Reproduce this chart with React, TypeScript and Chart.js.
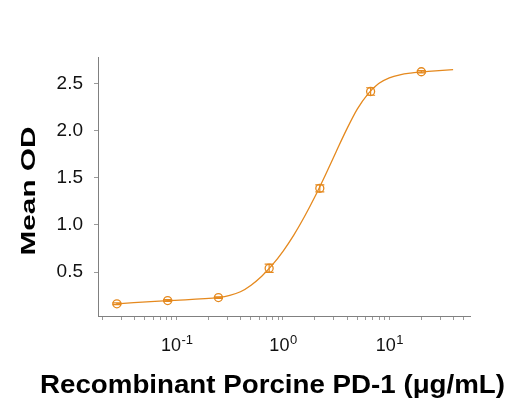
import React, { useEffect, useRef } from "react";
import { Chart, registerables } from "chart.js";

Chart.register(...registerables);

// Measured data (3-fold dilution series)
const concentrations = [0.0274, 0.0823, 0.247, 0.741, 2.22, 6.67, 20];
const meanOD = [0.162, 0.196, 0.228, 0.54, 1.39, 2.42, 2.63];
const errorOD = [0.01, 0.01, 0.008, 0.043, 0.037, 0.04, 0.012];

// Fitted curve
const curveX = [0.0274, 0.0823, 0.251, 0.316, 0.398, 0.501, 0.631, 0.794, 1.0, 1.259, 1.585, 1.995, 2.512, 3.162, 3.981, 5.012, 6.31, 7.943, 10, 12.59, 15.85, 19.95, 25.12, 31.62, 39.81];
const curveY = [0.162, 0.196, 0.229, 0.251, 0.29, 0.36, 0.455, 0.575, 0.72, 0.89, 1.085, 1.3, 1.535, 1.78, 2.02, 2.235, 2.395, 2.505, 2.565, 2.598, 2.616, 2.627, 2.636, 2.645, 2.652];

const yTicks = [0.5, 1.0, 1.5, 2.0, 2.5];
const xMajorTicks = [0.1, 1, 10];
const xMajorExponents = ["-1", "0", "1"];
const xMinorMultipliers = [1, 2, 3, 4, 5, 6, 7, 8, 9];
const xDecades = [0.01, 0.1, 1, 10];

const xTitle = "Recombinant Porcine PD-1 (\u03bcg/mL)";
const yTitle = "Mean OD";

const ORANGE = "#E5891E";
const FONT = '"Liberation Sans", Arial, Helvetica, sans-serif';
const X_MIN = 0.0182;
const X_MAX = 57.4;
const Y_MIN = 0.032;
const Y_MAX = 2.787;

const annotatePlugin = {
  id: "annotate",
  afterDatasetsDraw(chart: any) {
    const ctx = chart.ctx;
    const xs = chart.scales.x;
    const ys = chart.scales.y;
    ctx.save();
    ctx.strokeStyle = ORANGE;
    ctx.lineWidth = 1.2;
    const cap = 4.5;
    concentrations.forEach((c, i) => {
      const px = xs.getPixelForValue(c);
      const top = ys.getPixelForValue(meanOD[i] + errorOD[i]);
      const bot = ys.getPixelForValue(meanOD[i] - errorOD[i]);
      ctx.beginPath();
      ctx.moveTo(px, top);
      ctx.lineTo(px, bot);
      ctx.moveTo(px - cap, top);
      ctx.lineTo(px + cap, top);
      ctx.moveTo(px - cap, bot);
      ctx.lineTo(px + cap, bot);
      ctx.stroke();
    });
    ctx.restore();
  },
  afterDraw(chart: any) {
    const ctx = chart.ctx;
    const xs = chart.scales.x;
    const area = chart.chartArea;
    ctx.save();
    ctx.fillStyle = "#111";
    // x tick labels with superscript exponents
    xMajorTicks.forEach((v, i) => {
      const px = xs.getPixelForValue(v);
      ctx.font = `18px ${FONT}`;
      const w1 = ctx.measureText("10").width;
      ctx.font = `13px ${FONT}`;
      const w2 = ctx.measureText(xMajorExponents[i]).width;
      const start = px - (w1 + w2) / 2;
      ctx.textAlign = "left";
      ctx.textBaseline = "alphabetic";
      ctx.font = `18px ${FONT}`;
      ctx.fillText("10", start, area.bottom + 34.7);
      ctx.font = `13px ${FONT}`;
      ctx.fillText(xMajorExponents[i], start + w1 + 0.5, area.bottom + 27.5);
    });
    // x title
    ctx.fillStyle = "#000";
    ctx.font = `bold 25.5px ${FONT}`;
    const wx = ctx.measureText(xTitle).width;
    ctx.save();
    ctx.translate(272.5, 393.3);
    ctx.scale(465 / wx, 1);
    ctx.textAlign = "center";
    ctx.fillText(xTitle, 0, 0);
    ctx.restore();
    // y title
    ctx.font = `bold 21px ${FONT}`;
    const wy = ctx.measureText(yTitle).width;
    ctx.save();
    ctx.translate(35, (area.top + area.bottom) / 2 + 4.5);
    ctx.rotate(-Math.PI / 2);
    ctx.scale(129 / wy, 1);
    ctx.textAlign = "center";
    ctx.fillText(yTitle, 0, 0);
    ctx.restore();
    ctx.restore();
  },
};

export default function App() {
  const ref = useRef<HTMLCanvasElement>(null);
  useEffect(() => {
    const chart = new Chart(ref.current as HTMLCanvasElement, {
      type: "scatter",
      data: {
        datasets: [
          {
            label: "fit",
            data: curveX.map((x, i) => ({ x, y: curveY[i] })),
            showLine: true,
            borderColor: ORANGE,
            borderWidth: 1.3,
            pointRadius: 0,
            cubicInterpolationMode: "monotone",
            order: 2,
          } as any,
          {
            label: "points",
            data: concentrations.map((x, i) => ({ x, y: meanOD[i] })),
            showLine: false,
            pointStyle: "circle",
            pointRadius: 4,
            pointBorderWidth: 1.3,
            borderColor: ORANGE,
            backgroundColor: "rgba(0,0,0,0)",
            order: 1,
          } as any,
        ],
      },
      options: {
        animation: false,
        responsive: false,
        devicePixelRatio: 1,
        layout: { padding: { left: 0, right: 58, top: 57, bottom: 0 } },
        plugins: {
          legend: { display: false },
          tooltip: { enabled: false },
        },
        scales: {
          x: {
            type: "logarithmic",
            min: X_MIN,
            max: X_MAX,
            afterBuildTicks: (scale: any) => {
              const vals: number[] = [];
              xDecades.forEach((d) =>
                xMinorMultipliers.forEach((m) => {
                  const v = +(d * m).toPrecision(3);
                  if (v > X_MIN && v < X_MAX) vals.push(v);
                })
              );
              scale.ticks = vals.map((v) => ({ value: v, major: xMajorTicks.includes(v) }));
            },
            afterFit: (scale: any) => {
              scale.height = 89;
              scale.paddingLeft = 0;
              scale.paddingRight = 0;
            },
            ticks: { display: false },
            grid: {
              display: true,
              drawOnChartArea: false,
              drawTicks: true,
              tickLength: 4,
              color: "#9a9a9a",
              lineWidth: 1,
            },
            border: { display: true, color: "#808080", width: 1 },
          },
          y: {
            type: "linear",
            min: Y_MIN,
            max: Y_MAX,
            afterBuildTicks: (scale: any) => {
              scale.ticks = yTicks.map((v) => ({ value: v }));
            },
            afterFit: (scale: any) => {
              scale.width = 98;
              scale.paddingTop = 0;
              scale.paddingBottom = 0;
            },
            ticks: {
              padding: 11,
              color: "#111",
              font: { family: FONT, size: 19 },
              callback: (v: any) => Number(v).toFixed(1),
            },
            grid: {
              display: true,
              drawOnChartArea: false,
              drawTicks: true,
              tickLength: 4,
              color: "#9a9a9a",
              lineWidth: 1,
            },
            border: { display: true, color: "#808080", width: 1 },
          },
        },
      },
      plugins: [annotatePlugin],
    } as any);
    return () => chart.destroy();
  }, []);
  return (
    <div style={{ position: "absolute", left: 0, top: 0, width: 528, height: 405, background: "#fff" }}>
      <canvas ref={ref} width={528} height={405} style={{ display: "block", width: 528, height: 405 }} />
    </div>
  );
}
